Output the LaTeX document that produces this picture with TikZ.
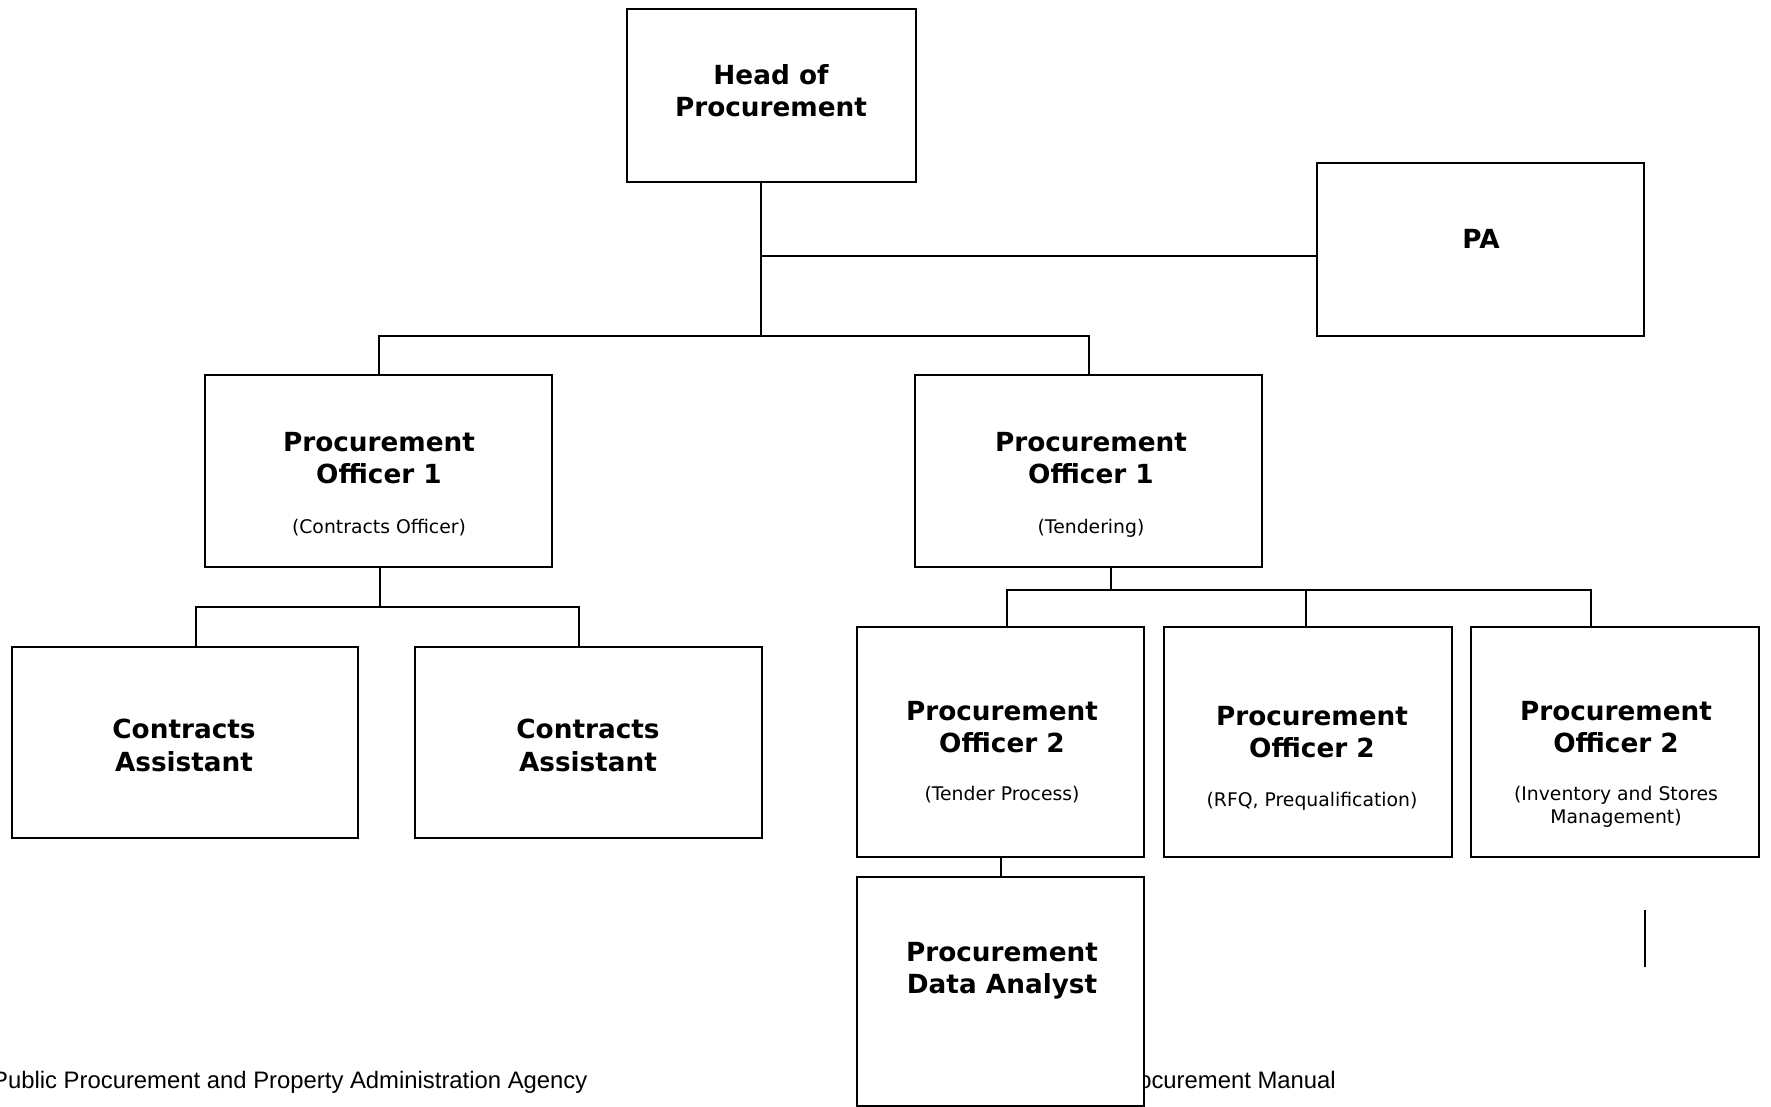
\documentclass[tikz,border=0pt]{standalone}
\usepackage{fontspec}
\setmainfont{DejaVu Sans}
\newfontfamily\footfont{Liberation Sans}
\begin{document}
\begin{tikzpicture}[x=1pt,y=-1pt,
  box/.style={draw=black,line width=2pt,fill=white,inner sep=0pt,outer sep=0pt},
  conn/.style={draw=black,line width=2pt},
  ttl/.style={anchor=base,inner sep=0pt,font=\fontsize{26.3}{32}\selectfont\bfseries},
  sub/.style={anchor=base,inner sep=0pt,font=\fontsize{18.8}{23}\selectfont},
  foot/.style={inner sep=0pt,font=\footfont\fontsize{23.85}{28}\selectfont}]
\useasboundingbox (0,0) rectangle (1771,1107);

% footer (partly hidden behind the data analyst box)
\node[foot,anchor=base west] (f1) at (-8,1088) {Public Procurement and Property Administration Agency};
\node[foot,anchor=base east] (f2) at (1336,1088) {Procurement Manual};

% boxes
\node[box,minimum width=289pt,minimum height=173pt] (head) at (771.5,95.5) {};
\node[box,minimum width=327pt,minimum height=173pt] (pa) at (1480.5,249.5) {};
\node[box,minimum width=347pt,minimum height=192pt] (po1l) at (378.5,471) {};
\node[box,minimum width=347pt,minimum height=192pt] (po1r) at (1088.5,471) {};
\node[box,minimum width=346pt,minimum height=191pt] (ca1) at (185,742.5) {};
\node[box,minimum width=347pt,minimum height=191pt] (ca2) at (588.5,742.5) {};
\node[box,minimum width=287pt,minimum height=230pt] (po2a) at (1000.5,742) {};
\node[box,minimum width=288pt,minimum height=230pt] (po2b) at (1308,742) {};
\node[box,minimum width=288pt,minimum height=230pt] (po2c) at (1615,742) {};
\node[box,minimum width=287pt,minimum height=229pt] (da) at (1000.5,991.5) {};

% junction coordinates
\coordinate (j1) at (761,256);
\coordinate (j2) at (761,336);
\coordinate (k) at (380,607);
\coordinate (ka) at (196,607);
\coordinate (kb) at (579,607);
\coordinate (m) at (1111,590);
\coordinate (ma) at (1007,590);
\coordinate (mb) at (1306,590);
\coordinate (mc) at (1591,590);
\coordinate (s1) at (1645,910);
\coordinate (s2) at (1645,967);

% connectors
\draw[conn] (head.south -| j1) -- (j2);
\draw[conn] (j1) -- (j1 -| pa.west);
\draw[conn] (po1l.north) -- (po1l.north |- j2) -- (po1r.north |- j2) -- (po1r.north);
\draw[conn] (po1l.south -| k) -- (k);
\draw[conn] (ka |- ca1.north) -- (ka) -- (kb) -- (kb |- ca2.north);
\draw[conn] (po1r.south -| m) -- (m);
\draw[conn] (ma |- po2a.north) -- (ma) -- (mc) -- (mc |- po2c.north);
\draw[conn] (mb) -- (mb |- po2b.north);
\draw[conn] (po2a.south) -- (da.north);
\draw[conn] (s1) -- (s2);

% texts
\node[ttl] (t-head1) at (771,85) {Head of};
\node[ttl] (t-head2) at (771,117) {Procurement};
\node[ttl] (t-pa) at (1481,249) {PA};

\node[ttl] (t-po1l1) at (379,451) {Procurement};
\node[ttl] (t-po1l2) at (379,483) {Officer 1};
\node[sub] (t-po1l3) at (379,533) {(Contracts Officer)};

\node[ttl] (t-po1r1) at (1091,451) {Procurement};
\node[ttl] (t-po1r2) at (1091,483) {Officer 1};
\node[sub] (t-po1r3) at (1091,533) {(Tendering)};

\node[ttl] (t-ca11) at (184,738) {Contracts};
\node[ttl] (t-ca12) at (184,771) {Assistant};
\node[ttl] (t-ca21) at (588,738) {Contracts};
\node[ttl] (t-ca22) at (588,771) {Assistant};

\node[ttl] (t-po2a1) at (1002,720) {Procurement};
\node[ttl] (t-po2a2) at (1002,752) {Officer 2};
\node[sub] (t-po2a3) at (1002,800) {(Tender Process)};

\node[ttl] (t-po2b1) at (1312,725) {Procurement};
\node[ttl] (t-po2b2) at (1312,757) {Officer 2};
\node[sub] (t-po2b3) at (1312,806) {(RFQ, Prequalification)};

\node[ttl] (t-po2c1) at (1616,720) {Procurement};
\node[ttl] (t-po2c2) at (1616,752) {Officer 2};
\node[sub] (t-po2c3) at (1616,800) {(Inventory and Stores};
\node[sub] (t-po2c4) at (1616,823) {Management)};

\node[ttl] (t-da1) at (1002,961) {Procurement};
\node[ttl] (t-da2) at (1002,993) {Data Analyst};
\end{tikzpicture}
\end{document}
